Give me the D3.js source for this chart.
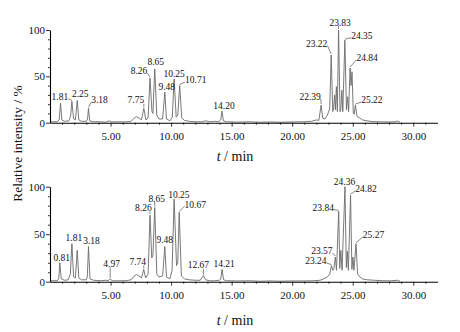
<!DOCTYPE html>
<html>
<head>
<meta charset="utf-8">
<script src="https://cdn.jsdelivr.net/npm/d3@7"></script>
<style>
  html, body { margin: 0; padding: 0; background: #fff; }
  svg { display: block; }
</style>
</head>
<body>
<svg id="chart" width="460" height="332"></svg>
<script>
// ---------- data ----------
// Upper chromatogram: retention time (min) and relative intensity (%)
const topTime = [0, 0.6, 0.76, 0.87, 0.98, 1.2, 1.55, 1.70, 1.81, 1.95, 2.1, 2.25, 2.38, 2.6, 3.0, 3.1, 3.18, 3.28, 3.6, 4.2, 4.6, 4.9, 5.1, 5.6, 6.2, 6.7, 6.95, 7.15, 7.35, 7.55, 7.75, 7.92, 8.1, 8.26, 8.42, 8.50, 8.65, 8.82, 9.0, 9.3, 9.48, 9.62, 9.9, 10.1, 10.25, 10.42, 10.55, 10.71, 10.88, 11.1, 11.5, 12.0, 12.5, 12.9, 13.2, 13.6, 13.9, 14.1, 14.20, 14.32, 14.6, 15.5, 16.5, 17.3, 18.2, 19.0, 20.0, 21.0, 21.6, 22.0, 22.2, 22.39, 22.52, 22.7, 22.9, 23.1, 23.22, 23.35, 23.42, 23.50, 23.57, 23.65, 23.73, 23.83, 23.95, 24.02, 24.10, 24.18, 24.35, 24.48, 24.58, 24.66, 24.78, 24.86, 24.94, 25.05, 25.12, 25.22, 25.35, 25.6, 25.8, 26.2, 26.6, 27.3, 28.0, 28.5, 28.7, 28.9];
const topIntensity = [1, 1, 3, 21, 3, 1.5, 2, 7, 23, 4, 3, 24, 3, 1.5, 1.5, 4, 15.5, 2, 1, 1, 0.5, 2, 0.8, 1, 0.8, 1.5, 5, 6.5, 5, 3, 15.5, 3, 5, 48, 12, 10, 58, 8, 4, 4, 33, 4, 2, 6, 47, 6, 8, 40, 5, 2.5, 1.5, 1, 1, 2, 1, 1.5, 1, 3, 12.5, 2, 1, 0.6, 1, 0.5, 0.8, 0.5, 0.8, 1, 1.5, 3, 2.5, 19, 5, 4, 8, 15, 73, 12, 15, 30, 14, 39, 12, 100, 12, 15, 35, 12, 89, 14, 28, 12, 59, 40, 55, 10, 9, 19, 7, 5, 3, 2, 1.2, 1, 0.8, 1, 1.8, 0.5];

// Lower chromatogram
const botTime = [0, 0.6, 0.72, 0.81, 0.93, 1.2, 1.5, 1.68, 1.81, 1.95, 2.1, 2.25, 2.38, 2.6, 3.0, 3.08, 3.18, 3.3, 3.6, 4.2, 4.6, 4.8, 4.97, 5.15, 5.6, 6.2, 6.7, 6.95, 7.15, 7.35, 7.55, 7.74, 7.9, 8.1, 8.26, 8.40, 8.50, 8.65, 8.82, 9.0, 9.3, 9.48, 9.62, 9.9, 10.08, 10.25, 10.45, 10.55, 10.67, 10.85, 11.1, 11.5, 12.0, 12.4, 12.67, 12.85, 13.2, 13.6, 14.0, 14.1, 14.21, 14.33, 14.6, 15.5, 16.5, 17.3, 18.2, 19.0, 20.0, 21.0, 21.8, 22.3, 22.6, 22.9, 23.10, 23.24, 23.36, 23.45, 23.57, 23.66, 23.84, 23.93, 24.02, 24.12, 24.36, 24.47, 24.55, 24.64, 24.82, 24.93, 25.02, 25.10, 25.27, 25.40, 25.6, 25.8, 26.2, 26.8, 27.5, 28.2, 28.7, 28.9];
const botIntensity = [1, 1, 3, 20, 3, 1.5, 2, 8, 40, 5, 4, 33, 4, 2, 2, 5, 37, 3, 1.5, 1, 1.5, 1, 3, 1, 1, 1, 2, 6, 7.5, 6, 4, 13, 4, 8, 70, 25, 28, 78, 8, 5, 6, 37, 5, 3, 12, 87, 17, 20, 73, 6, 3, 2, 1.5, 1.5, 6.5, 2, 1, 1, 1.5, 3, 13, 2, 1, 0.8, 1, 0.5, 0.8, 0.5, 0.8, 0.8, 1, 1.5, 3, 5, 8, 17, 12, 14, 26, 12, 74, 14, 33, 12, 100, 15, 32, 12, 91, 13, 26, 12, 40, 8, 5, 3, 2, 1.5, 1, 1, 1.5, 0.5];

// Peak labels (text) and the retention time of the peak each one marks
const topLabels = ["1.81", "2.25", "3.18", "7.75", "8.26", "8.65", "9.48", "10.25", "10.71", "14.20", "22.39", "23.22", "23.83", "24.35", "24.84", "25.22"];
const topLabelTime = [1.81, 2.25, 3.18, 7.75, 8.26, 8.65, 9.48, 10.25, 10.71, 14.20, 22.39, 23.22, 23.83, 24.35, 24.78, 25.22];
const botLabels = ["0.81", "1.81", "3.18", "4.97", "7.74", "8.26", "8.65", "9.48", "10.25", "10.67", "12.67", "14.21", "23.24", "23.57", "23.84", "24.36", "24.82", "25.27"];
const botLabelTime = [0.81, 1.81, 3.18, 4.97, 7.74, 8.26, 8.65, 9.48, 10.25, 10.67, 12.67, 14.21, 23.24, 23.57, 23.84, 24.36, 24.82, 25.27];

// Axis ticks
const xMajorTicks = [5, 10, 15, 20, 25, 30];
const xMinorTicks = d3.range(1, 32).filter(v => v % 5 !== 0);
const yMajorTicks = [0, 50, 100];
const yMinorTicks = [10, 20, 30, 40, 60, 70, 80, 90];

// ---------- layout (label offsets from the peak tip, px) ----------
const topLabelOffset = [[-12, -4.7], [3, -7], [11, -8.3], [-8, -8.3], [-11, -7.2], [1, -7.2], [2, -5], [0, -5], [16, -5.6], [2, -5], [-11, -8.5], [-14.5, -11.7], [1.5, -7.7], [17, -4.5], [17, -10], [16.5, -5]];
const botLabelOffset = [[2, -5.5], [2, -6], [3, -6], [1.5, -15.5], [-6, -7.6], [-6.7, -7.5], [2, -9.3], [0, -6.5], [4.7, -4.8], [16, -8], [-5, -10.5], [2, -5.5], [-15.6, -4.5], [-13.6, -6], [-15.4, -3.7], [-0.5, -5], [15.4, -6.3], [17.5, -8.7]];

// ---------- drawing ----------
const svg = d3.select("#chart");
const serif = "'Liberation Serif', 'Times New Roman', serif";

const x = d3.scaleLinear().domain([0, 32]).range([50, 437.5]);
const panels = [
  { time: topTime, inten: topIntensity, labels: topLabels, ltime: topLabelTime, loff: topLabelOffset, y: d3.scaleLinear().domain([0, 100]).range([122.7, 30]), titleY: 160.5 },
  { time: botTime, inten: botIntensity, labels: botLabels, ltime: botLabelTime, loff: botLabelOffset, y: d3.scaleLinear().domain([0, 100]).range([281.7, 186.7]), titleY: 324.5 }
];

panels.forEach(p => {
  const g = svg.append("g");
  const y0 = p.y(0);

  // trace
  const pts = p.time.map((t, i) => [t, p.inten[i]]);
  const line = d3.line().x(d => x(d[0])).y(d => p.y(d[1]));
  g.append("path").datum(pts)
    .attr("d", line)
    .attr("fill", "none")
    .attr("stroke", "#6a6a6a")
    .attr("stroke-width", 0.9)
    .attr("stroke-linejoin", "round");

  // x axis
  const xMajor = d3.axisBottom(x).tickValues(xMajorTicks).tickFormat(d3.format(".2f")).tickSize(4).tickSizeOuter(0).tickPadding(6);
  const xMinor = d3.axisBottom(x).tickValues(xMinorTicks).tickFormat("").tickSize(2).tickSizeOuter(0);
  const gxMin = g.append("g").attr("transform", `translate(0,${y0})`).call(xMinor);
  const gx = g.append("g").attr("transform", `translate(0,${y0})`).call(xMajor);
  gxMin.select(".domain").remove();
  [gx, gxMin].forEach(a => {
    a.selectAll("line").attr("stroke", "#000").attr("stroke-width", 0.8);
    a.selectAll(".domain").attr("stroke", "#000").attr("stroke-width", 1.1);
  });
  gx.selectAll("text").attr("font-family", serif).attr("font-size", 11).attr("fill", "#111");

  // y axis
  const yMajor = d3.axisLeft(p.y).tickValues(yMajorTicks).tickFormat(d3.format("d")).tickSize(4).tickSizeOuter(0).tickPadding(1);
  const yMinor = d3.axisLeft(p.y).tickValues(yMinorTicks).tickFormat("").tickSize(2).tickSizeOuter(0);
  const gyMin = g.append("g").attr("transform", `translate(${x(0)},0)`).call(yMinor);
  const gy = g.append("g").attr("transform", `translate(${x(0)},0)`).call(yMajor);
  gyMin.select(".domain").remove();
  [gy, gyMin].forEach(a => {
    a.selectAll("line").attr("stroke", "#000").attr("stroke-width", 0.8);
    a.selectAll(".domain").attr("stroke", "#000").attr("stroke-width", 1.1);
  });
  gy.selectAll("text").attr("font-family", serif).attr("font-size", 11).attr("fill", "#111");

  // peak labels with leader lines
  p.labels.forEach((lab, i) => {
    const t = p.ltime[i];
    const idx = d3.minIndex(p.time, v => Math.abs(v - t));
    const ax = x(t), ay = p.y(p.inten[idx]);
    const cx = ax + p.loff[i][0], cy = ay + p.loff[i][1];
    const txt = g.append("text")
      .attr("x", cx).attr("y", cy).attr("dy", "0.35em")
      .attr("text-anchor", "middle")
      .attr("font-family", serif).attr("font-size", 9.5)
      .attr("fill", "#111")
      .text(lab);
    const hw = txt.node().getComputedTextLength() / 2;
    let sx, sy;
    if (Math.abs(cx - ax) > hw) {
      sx = cx + (ax > cx ? hw : -hw);
      sy = cy + 2;
    } else {
      sx = ax; sy = cy + 3.8;
    }
    const ex = ax, ey = ay - 1;
    if (Math.hypot(ex - sx, ey - sy) > 2.5) {
      g.append("line")
        .attr("x1", sx).attr("y1", sy).attr("x2", ex).attr("y2", ey)
        .attr("stroke", "#333").attr("stroke-width", 0.6);
    }
  });

  // x title
  const xt = g.append("text")
    .attr("x", 235).attr("y", p.titleY)
    .attr("text-anchor", "middle")
    .attr("font-family", serif).attr("font-size", 14).attr("fill", "#111");
  xt.append("tspan").attr("font-style", "italic").text("t");
  xt.append("tspan").text(" / min");
});

// y title
svg.append("text")
  .attr("transform", "translate(17,143.5) rotate(-90)")
  .attr("text-anchor", "middle")
  .attr("dy", "0.35em")
  .attr("font-family", serif).attr("font-size", 13.5).attr("fill", "#111")
  .text("Relative intensity / %");
</script>
</body>
</html>
